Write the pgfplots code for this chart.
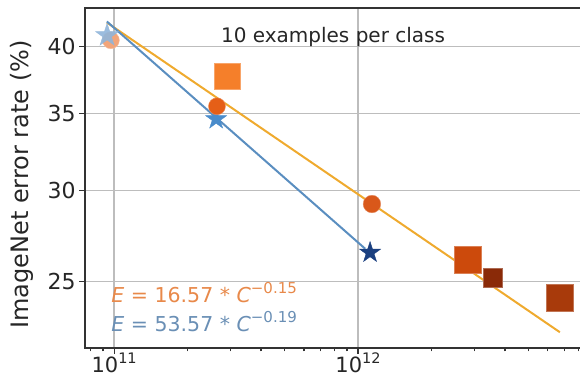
\documentclass[border=0pt]{standalone}
\usepackage{fontspec}
\setmainfont{DejaVu Sans}
\usepackage{pgfplots}
\pgfplotsset{compat=1.18}

\definecolor{goldline}{HTML}{EFAA2E}
\definecolor{blueline}{HTML}{5A8EC0}
\definecolor{lightstar}{HTML}{90B5DA}
\definecolor{midstar}{HTML}{4A8CCB}
\definecolor{navystar}{HTML}{1B4080}
\definecolor{lightcirc}{HTML}{F2A57A}
\definecolor{sqA}{HTML}{F57F2A}
\definecolor{circB}{HTML}{E55F17}
\definecolor{circC}{HTML}{D9581A}
\definecolor{sqD}{HTML}{CC4A0C}
\definecolor{sqE}{HTML}{8A2A08}
\definecolor{sqF}{HTML}{A83A0B}
\definecolor{txtorange}{HTML}{E8894A}
\definecolor{txtblue}{HTML}{6A8FB5}
\definecolor{gridgray}{HTML}{BDBDBD}
\definecolor{spine}{HTML}{333333}

\pgfdeclareplotmark{fstar}{%
  \pgfpathmoveto{\pgfpointpolar{90}{\pgfplotmarksize}}%
  \pgfpathlineto{\pgfpointpolar{126}{0.382\pgfplotmarksize}}%
  \pgfpathlineto{\pgfpointpolar{162}{\pgfplotmarksize}}%
  \pgfpathlineto{\pgfpointpolar{198}{0.382\pgfplotmarksize}}%
  \pgfpathlineto{\pgfpointpolar{234}{\pgfplotmarksize}}%
  \pgfpathlineto{\pgfpointpolar{270}{0.382\pgfplotmarksize}}%
  \pgfpathlineto{\pgfpointpolar{306}{\pgfplotmarksize}}%
  \pgfpathlineto{\pgfpointpolar{342}{0.382\pgfplotmarksize}}%
  \pgfpathlineto{\pgfpointpolar{18}{\pgfplotmarksize}}%
  \pgfpathlineto{\pgfpointpolar{54}{0.382\pgfplotmarksize}}%
  \pgfpathclose
  \pgfusepathqfillstroke}

\newcommand{\sq}[2]{#1\raisebox{0.75ex}{\fontsize{14.5}{16}\selectfont #2}}

\begin{document}
\begin{tikzpicture}
\useasboundingbox (-85pt,-34pt) rectangle (495pt,348pt);
\begin{axis}[
  at={(0,0)}, anchor=south west,
  scale only axis, width=498pt, height=340pt,
  xmode=log, ymode=log,
  xmin=7.60e10, xmax=8.36e12,
  ymin=21.9, ymax=43.2,
  xtick={1e11,1e12},
  xticklabels={\sq{10}{11},\sq{10}{12}},
  minor xtick={8e10,9e10,2e11,3e11,4e11,5e11,6e11,7e11,8e11,9e11,2e12,3e12,4e12,5e12,6e12,7e12,8e12},
  ytick={25,30,35,40},
  yticklabels={25,30,35,40},
  minor ytick={},
  xtick pos=bottom, ytick pos=left,
  tick align=outside,
  major tick length=6pt, minor tick length=3.5pt,
  every tick/.style={spine, line width=1.2pt},
  xmajorgrids, ymajorgrids,
  major grid style={gridgray, line width=1.3pt},
  axis line style={spine, line width=1.8pt},
  tick label style={font=\fontsize{22}{26}\selectfont, text=black!85},
  xticklabel style={font=\fontsize{21}{24}\selectfont, inner ysep=0pt, yshift=1pt},
  clip=false,
]
% markers
\addplot[only marks, mark=*, mark size=8.5pt, draw=lightcirc!70, fill=lightcirc] coordinates {(9.7e10,40.5)};
\addplot[only marks, mark=fstar, mark size=12pt, draw=lightstar, fill=lightstar, opacity=0.9] coordinates {(9.36e10,40.9)};
\addplot[only marks, mark=square*, mark size=13pt, draw=sqA!70, fill=sqA] coordinates {(2.9e11,37.7)};
\addplot[only marks, mark=fstar, mark size=11pt, draw=midstar, fill=midstar] coordinates {(2.62e11,34.6)};
\addplot[only marks, mark=*, mark size=8.5pt, draw=circB!70, fill=circB] coordinates {(2.64e11,35.5)};
\addplot[only marks, mark=*, mark size=8.8pt, draw=circC!70, fill=circC] coordinates {(1.14e12,29.2)};
\addplot[only marks, mark=fstar, mark size=11pt, draw=navystar, fill=navystar] coordinates {(1.12e12,26.5)};
\addplot[only marks, mark=square*, mark size=13.5pt, draw=sqD!70, fill=sqD] coordinates {(2.82e12,26.1)};
\addplot[only marks, mark=square*, mark size=9.5pt, draw=sqE!70, fill=sqE] coordinates {(3.56e12,25.2)};
\addplot[only marks, mark=square*, mark size=13.5pt, draw=sqF!70, fill=sqF] coordinates {(6.68e12,24.2)};
% fit lines
\addplot[no marks, goldline, line width=2pt] coordinates {(9.34e10,41.96) (6.72e12,22.6)};
\addplot[no marks, blueline, line width=2pt] coordinates {(9.34e10,42.05) (1.07e12,26.7)};
% texts
\node[font=\fontsize{20}{24}\selectfont, text=black!85] at (rel axis cs:0.498,0.915) {10 examples per class};
\node[anchor=west, font=\fontsize{20.5}{24}\selectfont, text=txtorange] at (rel axis cs:0.046,0.162) {{\itshape E} = 16.57 * {\itshape C}\raisebox{0.8ex}{\fontsize{15}{17}\selectfont −0.15}};
\node[anchor=west, font=\fontsize{20.5}{24}\selectfont, text=txtblue] at (rel axis cs:0.046,0.079) {{\itshape E} = 53.57 * {\itshape C}\raisebox{0.8ex}{\fontsize{15}{17}\selectfont −0.19}};
\node[rotate=90, font=\fontsize{24}{28}\selectfont, text=black!85] at (rel axis cs:-0.1265,0.481) {ImageNet error rate (\%)};
\end{axis}
\end{tikzpicture}
\end{document}
